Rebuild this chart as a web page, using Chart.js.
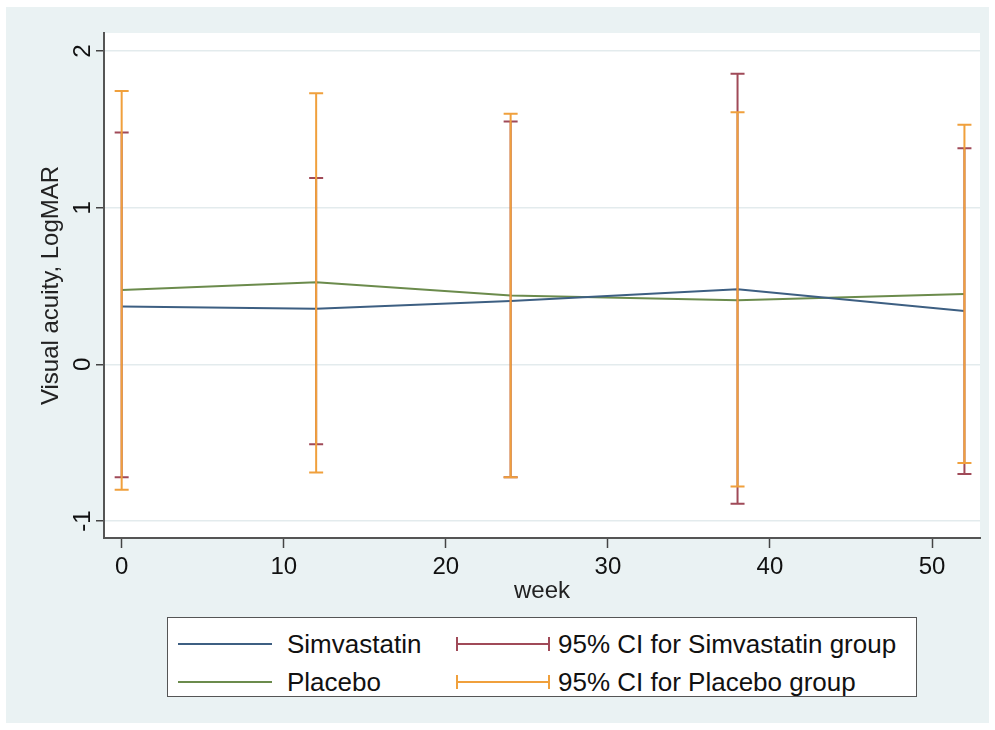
<!DOCTYPE html>
<html>
<head>
  <title>Visual acuity by week</title>
  <script src="https://cdn.jsdelivr.net/npm/chart.js"></script>
  <style>
    body { margin: 0; background: #fff; }
    #wrap { position: relative; width: 995px; height: 730px; }
    #legend {
      position: absolute; left: 167px; top: 617px; width: 750px; height: 80px;
      box-sizing: border-box; border: 1px solid #555; background: #fff;
      font-family: "Liberation Sans", Arial, sans-serif; font-size: 26px; color: #111;
    }
    .item { position: absolute; height: 30px; line-height: 30px; white-space: nowrap; }
    .sw { position: absolute; top: 14px; width: 94px; height: 0; border-top: 2px solid; }
    .sw.ci::before, .sw.ci::after {
      content: ""; position: absolute; top: -8px; width: 0; height: 14px; border-left: 2px solid;
      border-color: inherit;
    }
    .sw.ci::before { left: 0; }
    .sw.ci::after { right: 0; }
    .txt { position: absolute; top: 0; }
  </style>
</head>
<body>
  <div id="wrap">
    <canvas id="myChart" width="995" height="730"></canvas>
    <div id="legend">
      <div class="item" style="left:10px;top:11px"><div class="sw" style="border-color:#3d5f82"></div><span class="txt" style="left:109px">Simvastatin</span></div>
      <div class="item" style="left:288px;top:11px"><div class="sw ci" style="border-color:#a04a58"></div><span class="txt" style="left:102px">95% CI for Simvastatin group</span></div>
      <div class="item" style="left:10px;top:49px"><div class="sw" style="border-color:#6b8b4c"></div><span class="txt" style="left:109px">Placebo</span></div>
      <div class="item" style="left:288px;top:49px"><div class="sw ci" style="border-color:#f0a03c"></div><span class="txt" style="left:102px">95% CI for Placebo group</span></div>
    </div>
  </div>
  <script>
    // values
    const weeks = [0, 12, 24, 38, 52];
    const simvastatinMean = [0.37, 0.355, 0.405, 0.48, 0.34];
    const placeboMean = [0.475, 0.525, 0.44, 0.41, 0.45];
    const simvastatinLow = [-0.72, -0.51, -0.72, -0.89, -0.70];
    const simvastatinHigh = [1.48, 1.19, 1.55, 1.855, 1.38];
    const placeboLow = [-0.80, -0.69, -0.72, -0.78, -0.63];
    const placeboHigh = [1.745, 1.73, 1.60, 1.61, 1.53];
    const xTicks = [0, 10, 20, 30, 40, 50];
    const yTicks = [-1, 0, 1, 2];

    const BG = '#eaf2f3';
    const font = { family: '"Liberation Sans", Arial, sans-serif', size: 24 };

    const pts = (ys) => weeks.map((w, i) => ({ x: w, y: ys[i] }));

    // background + white plot region
    const backdrop = {
      id: 'backdrop',
      beforeDraw(chart) {
        const ctx = chart.ctx, a = chart.chartArea;
        ctx.save();
        ctx.fillStyle = '#fff';
        ctx.fillRect(0, 0, chart.width, chart.height);
        ctx.fillStyle = BG;
        ctx.fillRect(6, 7, 983, 716);
        ctx.fillStyle = '#fff';
        ctx.fillRect(a.left, a.top, a.right - a.left, a.bottom - a.top);
        ctx.restore();
      }
    };

    // capped vertical CI bars
    const errorBars = {
      id: 'errorBars',
      afterDatasetsDraw(chart) {
        const ctx = chart.ctx, xs = chart.scales.x, ys = chart.scales.y;
        const groups = [
          { low: simvastatinLow, high: simvastatinHigh, color: '#a04a58' },
          { low: placeboLow, high: placeboHigh, color: '#f0a03c' }
        ];
        ctx.save();
        ctx.lineWidth = 2;
        groups.forEach(g => {
          ctx.strokeStyle = g.color;
          weeks.forEach((w, i) => {
            const px = xs.getPixelForValue(w);
            const y1 = ys.getPixelForValue(g.low[i]);
            const y2 = ys.getPixelForValue(g.high[i]);
            ctx.beginPath();
            ctx.moveTo(px, y1); ctx.lineTo(px, y2);
            ctx.moveTo(px - 7, y1); ctx.lineTo(px + 7, y1);
            ctx.moveTo(px - 7, y2); ctx.lineTo(px + 7, y2);
            ctx.stroke();
          });
        });
        ctx.restore();
      }
    };

    const chartConfig = {
      type: 'line',
      data: {
        datasets: [
          { label: 'Simvastatin', data: pts(simvastatinMean), borderColor: '#3d5f82', borderWidth: 2, pointRadius: 0, tension: 0 },
          { label: 'Placebo', data: pts(placeboMean), borderColor: '#6b8b4c', borderWidth: 2, pointRadius: 0, tension: 0 }
        ]
      },
      options: {
        responsive: false,
        animation: false,
        devicePixelRatio: 1,
        layout: { padding: { left: 6, top: 33, right: 15, bottom: 0 } },
        plugins: { legend: { display: false }, tooltip: { enabled: false } },
        scales: {
          x: {
            type: 'linear', min: -1.09, max: 52.96,
            afterBuildTicks: s => { s.ticks = xTicks.map(v => ({ value: v })); },
            afterFit: s => { s.height = 192; },
            grid: { drawOnChartArea: false, drawTicks: true, tickLength: 10, tickColor: '#444', tickWidth: 1.5 },
            border: { color: '#555', width: 2 },
            ticks: { color: '#111', font: font, padding: 5, maxRotation: 0 },
            title: { display: true, text: 'week', color: '#222', font: font, padding: { top: 0, bottom: 124 } }
          },
          y: {
            type: 'linear', min: -1.108, max: 2.115,
            afterBuildTicks: s => { s.ticks = yTicks.map(v => ({ value: v })); },
            afterFit: s => { s.width = 98; },
            grid: { color: '#e3ebed', lineWidth: 1.5, drawTicks: true, tickLength: 8, tickColor: '#444', tickWidth: 1.5 },
            border: { color: '#555', width: 2 },
            ticks: { color: '#111', font: font, padding: 2, minRotation: 90, maxRotation: 90, crossAlign: 'center' },
            title: { display: true, text: 'Visual acuity, LogMAR', color: '#222', font: font, padding: { top: 31, bottom: 0 } }
          }
        }
      },
      plugins: [backdrop, errorBars]
    };
    const myChart = new Chart(document.getElementById('myChart'), chartConfig);
  </script>
</body>
</html>
